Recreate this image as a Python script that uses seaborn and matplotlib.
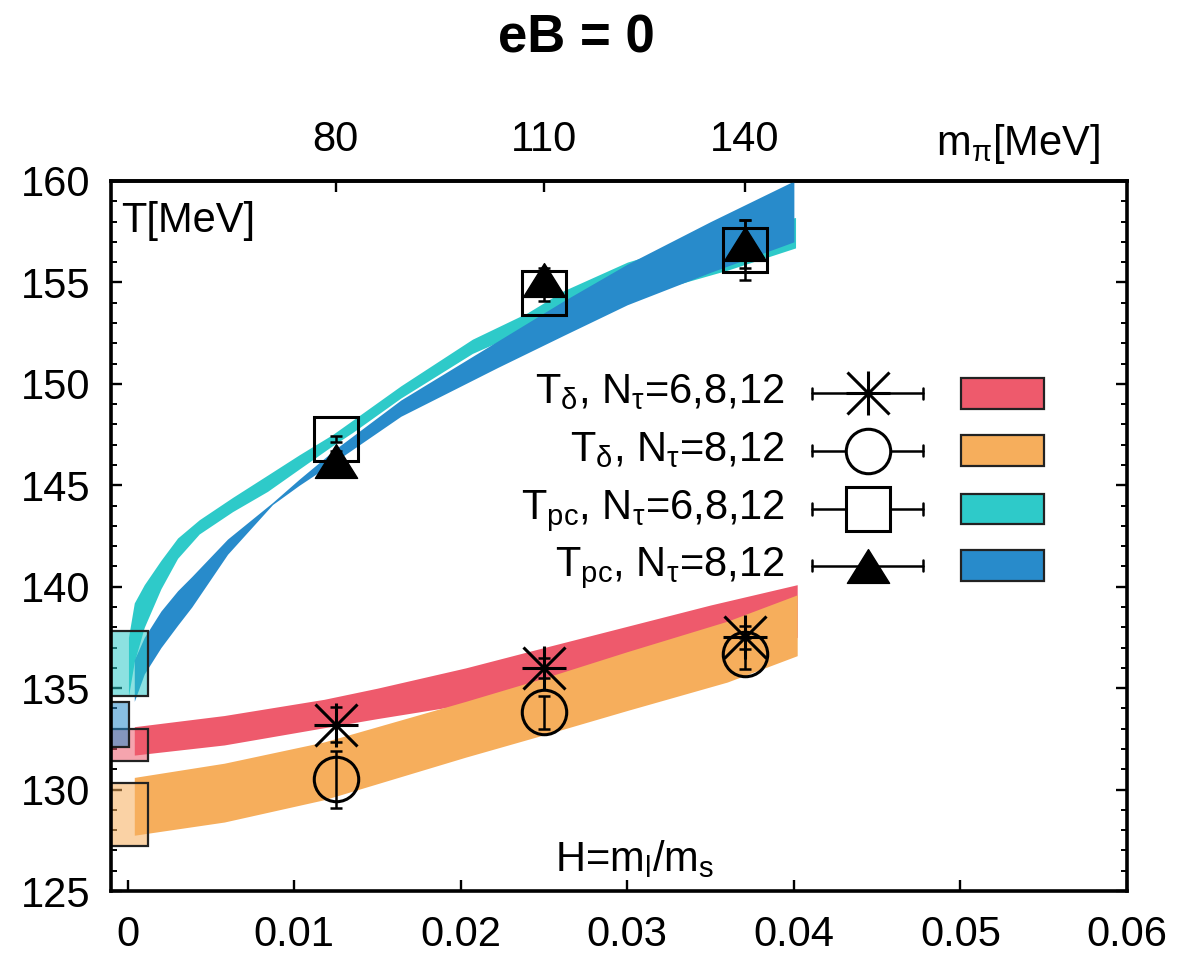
import matplotlib
matplotlib.use("Agg")
import matplotlib.pyplot as plt
import seaborn as sns
from matplotlib.patches import Rectangle
from matplotlib.path import Path
from matplotlib.ticker import MultipleLocator, FixedLocator, FixedFormatter

# ---------------------------------------------------------------- data
# light-to-strange quark mass ratio H = m_l/m_s of the simulated ensembles
H_points = [1 / 80, 1 / 40, 1 / 27]
mpi_labels = ["80", "110", "140"]

T_delta_all = [133.2, 136.0, 137.5]      # T_delta, N_tau = 6,8,12
T_delta_all_err = [0.85, 0.5, 0.55]
T_delta_fine = [130.5, 133.8, 136.7]     # T_delta, N_tau = 8,12
T_delta_fine_err = [1.4, 0.8, 0.75]
T_pc_all = [147.3, 154.5, 156.6]         # T_pc, N_tau = 6,8,12
T_pc_all_err = [0.15, 0.4, 1.5]
T_pc_fine = [146.2, 155.1, 156.9]        # T_pc, N_tau = 8,12
T_pc_fine_err = [0.5, 0.6, 1.2]

# fit bands: upper / lower edge versus H
H_red = [0.0004, 0.0058, 0.0118, 0.015, 0.0203, 0.025, 0.030, 0.035, 0.0402]
red_hi = [133.1, 133.65, 134.45, 135.0, 136.0, 137.0, 138.05, 139.1, 140.1]
red_lo = [131.7, 132.2, 133.05, 133.5, 134.2, 134.9, 135.9, 136.7, 137.5]

H_orange = [0.0004, 0.0058, 0.0118, 0.0203, 0.025, 0.030, 0.036, 0.0402]
orange_hi = [130.6, 131.3, 132.35, 134.35, 135.5, 136.8, 138.3, 139.6]
orange_lo = [127.75, 128.4, 129.5, 131.6, 132.7, 133.9, 135.3, 136.6]

H_cyan = [0.00005, 0.0004, 0.001, 0.002, 0.003, 0.0043, 0.0063, 0.0084, 0.0103,
          0.0123, 0.0135, 0.0164, 0.0207, 0.024, 0.0262, 0.030, 0.036, 0.0401]
cyan_hi = [137.5, 139.2, 140.1, 141.3, 142.4, 143.3, 144.4, 145.5, 146.5,
           147.5, 148.2, 149.9, 152.2, 153.5, 154.6, 156.0, 157.5, 158.2]
cyan_lo = [134.6, 136.3, 138.0, 139.9, 141.4, 142.6, 143.7, 144.7, 145.8,
           146.95, 147.6, 149.3, 151.5, 152.7, 153.5, 154.2, 155.6, 156.7]

H_blue = [0.0004, 0.001, 0.002, 0.003, 0.00385, 0.006, 0.0087, 0.0103, 0.0125,
          0.0164, 0.0222, 0.0262, 0.030, 0.035, 0.040]
blue_hi = [136.4, 137.5, 138.8, 139.8, 140.5, 142.35, 144.15, 145.3, 146.8,
           149.2, 152.1, 154.1, 155.9, 158.0, 160.0]
blue_lo = [134.35, 135.7, 137.0, 138.1, 139.0, 141.6, 144.05, 145.0, 146.2,
           148.4, 150.8, 152.4, 153.9, 155.5, 157.0]

# chiral-limit values T(H=0) with their errors (red, orange, cyan, blue)
T0_values = [132.2, 128.75, 136.2, 133.2]
T0_errors = [0.8, 1.55, 1.6, 1.1]

x_ticks = [0, 0.01, 0.02, 0.03, 0.04, 0.05, 0.06]
x_tick_labels = ["0", "0.01", "0.02", "0.03", "0.04", "0.05", "0.06"]
y_ticks = [125, 130, 135, 140, 145, 150, 155, 160]

legend_labels = [r"T$_δ$, N$_τ$=6,8,12", r"T$_δ$, N$_τ$=8,12",
                 r"T$_{pc}$, N$_τ$=6,8,12", r"T$_{pc}$, N$_τ$=8,12"]

# ---------------------------------------------------------------- style
sns.set_theme(style="ticks")
plt.rcParams["font.family"] = ["Liberation Sans", "DejaVu Sans"]
plt.rcParams["mathtext.fontset"] = "custom"
plt.rcParams["mathtext.rm"] = "Liberation Sans"
plt.rcParams["mathtext.it"] = "Liberation Sans"
plt.rcParams["mathtext.default"] = "regular"
for key in ("text.color", "axes.labelcolor", "xtick.color", "ytick.color",
            "axes.edgecolor"):
    plt.rcParams[key] = "black"

RED, ORANGE, CYAN, BLUE = "#EE5A6C", "#F6AE5C", "#2ECAC9", "#288BCB"
band_colors = [RED, ORANGE, CYAN, BLUE]
FS = 30

fig = plt.figure(figsize=(11.78, 9.55), dpi=100)
ax = fig.add_axes([0.0942, 0.067, 0.8625, 0.7435])
ax.set_xlim(-0.001, 0.06)
ax.set_ylim(125, 160)

# fit bands
ax.fill_between(H_red, red_lo, red_hi, color=RED, lw=0, zorder=1)
ax.fill_between(H_orange, orange_lo, orange_hi, color=ORANGE, lw=0, zorder=1.1)
ax.fill_between(H_cyan, cyan_lo, cyan_hi, color=CYAN, lw=0, zorder=1.2)
ax.fill_between(H_blue, blue_lo, blue_hi, color=BLUE, lw=0, zorder=1.3)

# chiral-limit boxes at H = 0
box_spans = [(-0.0012, 0.0012), (-0.0012, 0.0012), (-0.0012, 0.0012), (-0.0012, 0.00006)]
box_order = [2, 0, 3, 1]
for k, i in enumerate(box_order):
    x0, x1 = box_spans[i]
    ax.add_patch(Rectangle((x0, T0_values[i] - T0_errors[i]), x1 - x0, 2 * T0_errors[i],
                           facecolor=band_colors[i], alpha=0.55, edgecolor="none",
                           zorder=2 + 0.1 * k))
    ax.add_patch(Rectangle((x0, T0_values[i] - T0_errors[i]), x1 - x0, 2 * T0_errors[i],
                           facecolor="none", edgecolor="#222222", lw=1.6,
                           zorder=2.05 + 0.1 * k))

# flattened triangle marker
tri = Path([(-1, -0.8), (1, -0.8), (0, 0.8), (-1, -0.8)],
           [Path.MOVETO, Path.LINETO, Path.LINETO, Path.CLOSEPOLY])

MS = 32
err_kw = dict(fmt="none", ecolor="black", elinewidth=1.8, capsize=4.5, capthick=1.8)


def asterisk(axis, x, y, **kw):
    axis.plot(x, y, ls="none", marker="+", ms=MS, mew=2.2, color="black", **kw)
    axis.plot(x, y, ls="none", marker="x", ms=MS * 0.95, mew=2.2, color="black", **kw)


ax.errorbar(H_points, T_delta_fine, yerr=T_delta_fine_err, zorder=3, **err_kw)
ax.plot(H_points, T_delta_fine, ls="none", marker="o", ms=MS, mfc="none",
        mec="black", mew=2.2, zorder=3)
ax.errorbar(H_points, T_delta_all, yerr=T_delta_all_err, zorder=3.1, **err_kw)
asterisk(ax, H_points, T_delta_all, zorder=3.1)
ax.errorbar(H_points, T_pc_all, yerr=T_pc_all_err, zorder=3.2, **err_kw)
ax.plot(H_points, T_pc_all, ls="none", marker="s", ms=MS, mfc="none",
        mec="black", mew=2.2, zorder=3.2)
ax.errorbar(H_points, T_pc_fine, yerr=T_pc_fine_err, zorder=3.3, **err_kw)
ax.plot(H_points, T_pc_fine, ls="none", marker=tri, ms=MS * 0.95, mfc="black",
        mec="black", mew=1.0, zorder=3.3)

# axes, ticks
for s in ax.spines.values():
    s.set_linewidth(2.6)
    s.set_color("black")
ax.xaxis.set_major_locator(FixedLocator(x_ticks))
ax.xaxis.set_major_formatter(FixedFormatter(x_tick_labels))
ax.yaxis.set_major_locator(FixedLocator(y_ticks))
ax.yaxis.set_minor_locator(MultipleLocator(1))
ax.tick_params(axis="x", which="major", direction="in", length=8, width=1.7,
               top=False, labelsize=FS, pad=17)
ax.tick_params(axis="y", which="major", direction="in", length=8, width=1.7,
               right=True, labelsize=FS, pad=15)
ax.tick_params(axis="y", which="minor", direction="in", length=4, width=1.4, right=True)

top = ax.secondary_xaxis("top")
top.set_xticks(H_points)
top.set_xticklabels(mpi_labels)
top.tick_params(direction="in", length=8, width=1.7, labelsize=FS, pad=15)
top.spines["top"].set_linewidth(2.6)

# in-frame labels
ax.text(0.0098, 0.928, "T[MeV]", transform=ax.transAxes, fontsize=FS,
        ha="left", va="baseline")
ax.text(0.437, 0.028, r"H=m$_l$/m$_s$", transform=ax.transAxes, fontsize=FS,
        ha="left", va="baseline")
fig.text(0.934, 0.8377, r"m$_π$[MeV]", fontsize=FS, ha="right", va="baseline")
fig.text(0.489, 0.960, "eB = 0", fontsize=38, fontweight="bold", ha="center", va="center")

# legend: label, errorbar sample with symbol, band swatch
legend_rows = [0.701, 0.620, 0.538, 0.458]
legend_markers = ["asterisk", "o", "s", "tri"]
tr = ax.transAxes
for row, lab, mk, col in zip(legend_rows, legend_labels, legend_markers, band_colors):
    ax.text(0.663, row - 0.0141, lab, transform=tr, fontsize=FS, ha="right", va="baseline")
    ax.plot([0.690, 0.799], [row, row], transform=tr, color="black", lw=1.8, zorder=4)
    for xe in (0.690, 0.799):
        ax.plot([xe, xe], [row - 0.008, row + 0.008], transform=tr, color="black",
                lw=1.8, zorder=4)
    if mk == "asterisk":
        asterisk(ax, [0.745], [row], transform=tr, zorder=4)
    elif mk == "tri":
        ax.plot([0.745], [row], marker=tri, ms=MS * 0.95, color="black",
                transform=tr, zorder=4)
    else:
        ax.plot([0.745], [row], marker=mk, ms=MS, mfc="white", mec="black", mew=2.2,
                transform=tr, zorder=4)
    ax.add_patch(Rectangle((0.837, row - 0.0218), 0.081, 0.0436, transform=tr,
                           facecolor=col, edgecolor="#222222", lw=1.6, zorder=4))

fig.savefig("out.png", dpi=100)
